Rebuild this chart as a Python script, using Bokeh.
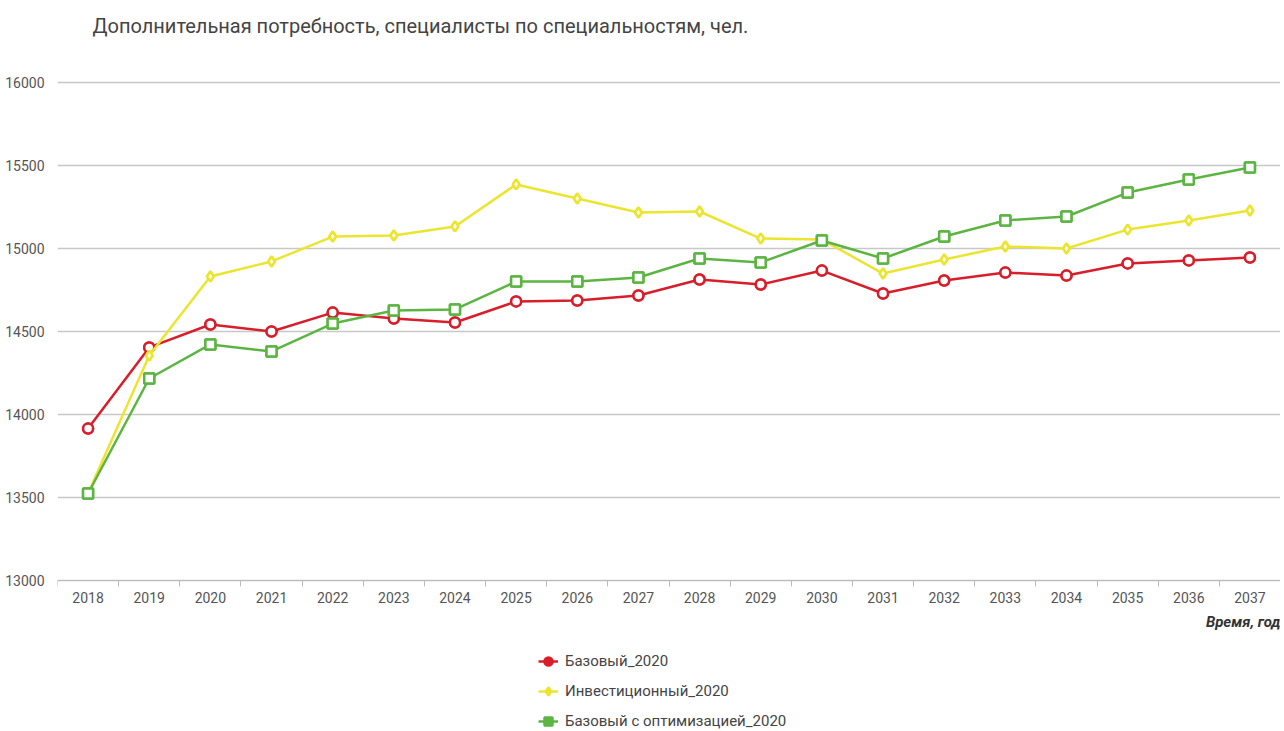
from bokeh.plotting import figure
from bokeh.models import (ColumnDataSource, FixedTicker, Legend, LegendItem, Label)
from bokeh.embed import file_html
from bokeh.resources import INLINE

years = list(range(2018, 2038))
base_2020 = [13915, 14404, 14542, 14500, 14614, 14578, 14554, 14681, 14687, 14717,
             14813, 14783, 14867, 14729, 14807, 14855, 14837, 14910, 14928, 14946]
invest_2020 = [13525, 14355, 14831, 14922, 15072, 15078, 15133, 15386, 15301, 15217,
               15223, 15060, 15054, 14849, 14934, 15012, 15000, 15114, 15169, 15229]
opt_2020 = [13524, 14217, 14422, 14380, 14548, 14627, 14633, 14801, 14801, 14825,
            14940, 14916, 15048, 14940, 15072, 15169, 15193, 15337, 15416, 15488]
y_ticks = [13000, 13500, 14000, 14500, 15000, 15500, 16000]

series_names = ["Базовый_2020", "Инвестиционный_2020", "Базовый с оптимизацией_2020"]
title_text = "Дополнительная потребность, специалисты по специальностям, чел."
x_title = "Время, год"

FONT = "Roboto"
colors = ["#d81e2a", "#ece52f", "#5cb543"]
markers = ["circle", "diamond", "square"]
msizes = [10, 10, 10]
series = [base_2020, invest_2020, opt_2020]

# layout (pixels): value axis 13000..16000 spans 498 px, 82 px free above, 149 px below
FRAME_H = 729
PX_PER_UNIT = 498 / 3000
y_lo = 13000 - 149 / PX_PER_UNIT
y_hi = 16000 + 82 / PX_PER_UNIT
x_lo, x_hi = 2017.5, 2037.5
FRAME_W = 1223
UNIT_PER_PX_X = (x_hi - x_lo) / FRAME_W

p = figure(frame_width=FRAME_W, frame_height=FRAME_H, output_backend="svg",
           toolbar_location=None, title=None,
           x_range=(x_lo, x_hi), y_range=(y_lo, y_hi),
           min_border_left=57, min_border_right=0, min_border_top=0,
           min_border_bottom=0)
p.outline_line_color = None
p.background_fill_color = "white"

p.xaxis.fixed_location = 13000
p.xaxis.ticker = FixedTicker(ticks=years, minor_ticks=[y + 0.5 for y in [2017] + years])
p.xaxis.major_tick_line_color = None
p.xaxis.minor_tick_out = 6
p.xaxis.minor_tick_in = 0
p.xaxis.minor_tick_line_color = "#bbbbbb"
p.xaxis.axis_line_color = "#bbbbbb"
p.xaxis.major_label_text_font = FONT
p.xaxis.major_label_text_font_size = "14px"
p.xaxis.major_label_text_color = "#555555"
p.xaxis.major_label_standoff = 5

p.yaxis.ticker = FixedTicker(ticks=y_ticks)
p.yaxis.axis_line_color = None
p.yaxis.major_tick_line_color = None
p.yaxis.minor_tick_line_color = None
p.yaxis.major_label_text_font = FONT
p.yaxis.major_label_text_font_size = "14px"
p.yaxis.major_label_text_color = "#555555"
p.yaxis.major_label_standoff = 7

p.xgrid.grid_line_color = None
p.ygrid.ticker = FixedTicker(ticks=y_ticks)
p.ygrid.grid_line_color = "#c8c8c8"
p.ygrid.grid_line_width = 1.5

items = []
for name, vals, col, mk, ms in zip(series_names, series, colors, markers, msizes):
    src = ColumnDataSource(dict(x=years, y=vals))
    lr = p.line("x", "y", source=src, line_color=col, line_width=2.5)
    # filled marker (shown in the legend; fully covered in the plot by the hollow one)
    fr = p.scatter("x", "y", source=src, marker=mk, size=ms, line_color=col,
                   fill_color=col, line_width=2.5)
    p.scatter("x", "y", source=src, marker=mk, size=ms, line_color=col,
              fill_color="white", line_width=2.5)
    items.append(LegendItem(label=name, renderers=[lr, fr]))

legend = Legend(items=items, location=(481, -2), orientation="vertical",
                label_text_font=FONT, label_text_font_size="15px",
                label_text_color="#444444", glyph_width=20, glyph_height=20,
                label_height=20, spacing=10, padding=0, margin=0,
                border_line_color=None, background_fill_alpha=0, label_standoff=7)
p.add_layout(legend, "center")

# chart title (top-left) and x-axis title (bottom-right)
p.add_layout(Label(x=x_lo + 35 * UNIT_PER_PX_X, y=16000 + 57 / PX_PER_UNIT,
                   text=title_text, text_align="left", text_baseline="middle",
                   text_font=FONT, text_font_size="20px", text_color="#444444"))
p.add_layout(Label(x=x_hi, y=13000 - 41 / PX_PER_UNIT, text=x_title,
                   text_align="right", text_baseline="middle", text_font=FONT,
                   text_font_size="15px", text_font_style="bold italic",
                   text_color="#333333"))

open("out.html", "w").write(file_html(p, INLINE))
